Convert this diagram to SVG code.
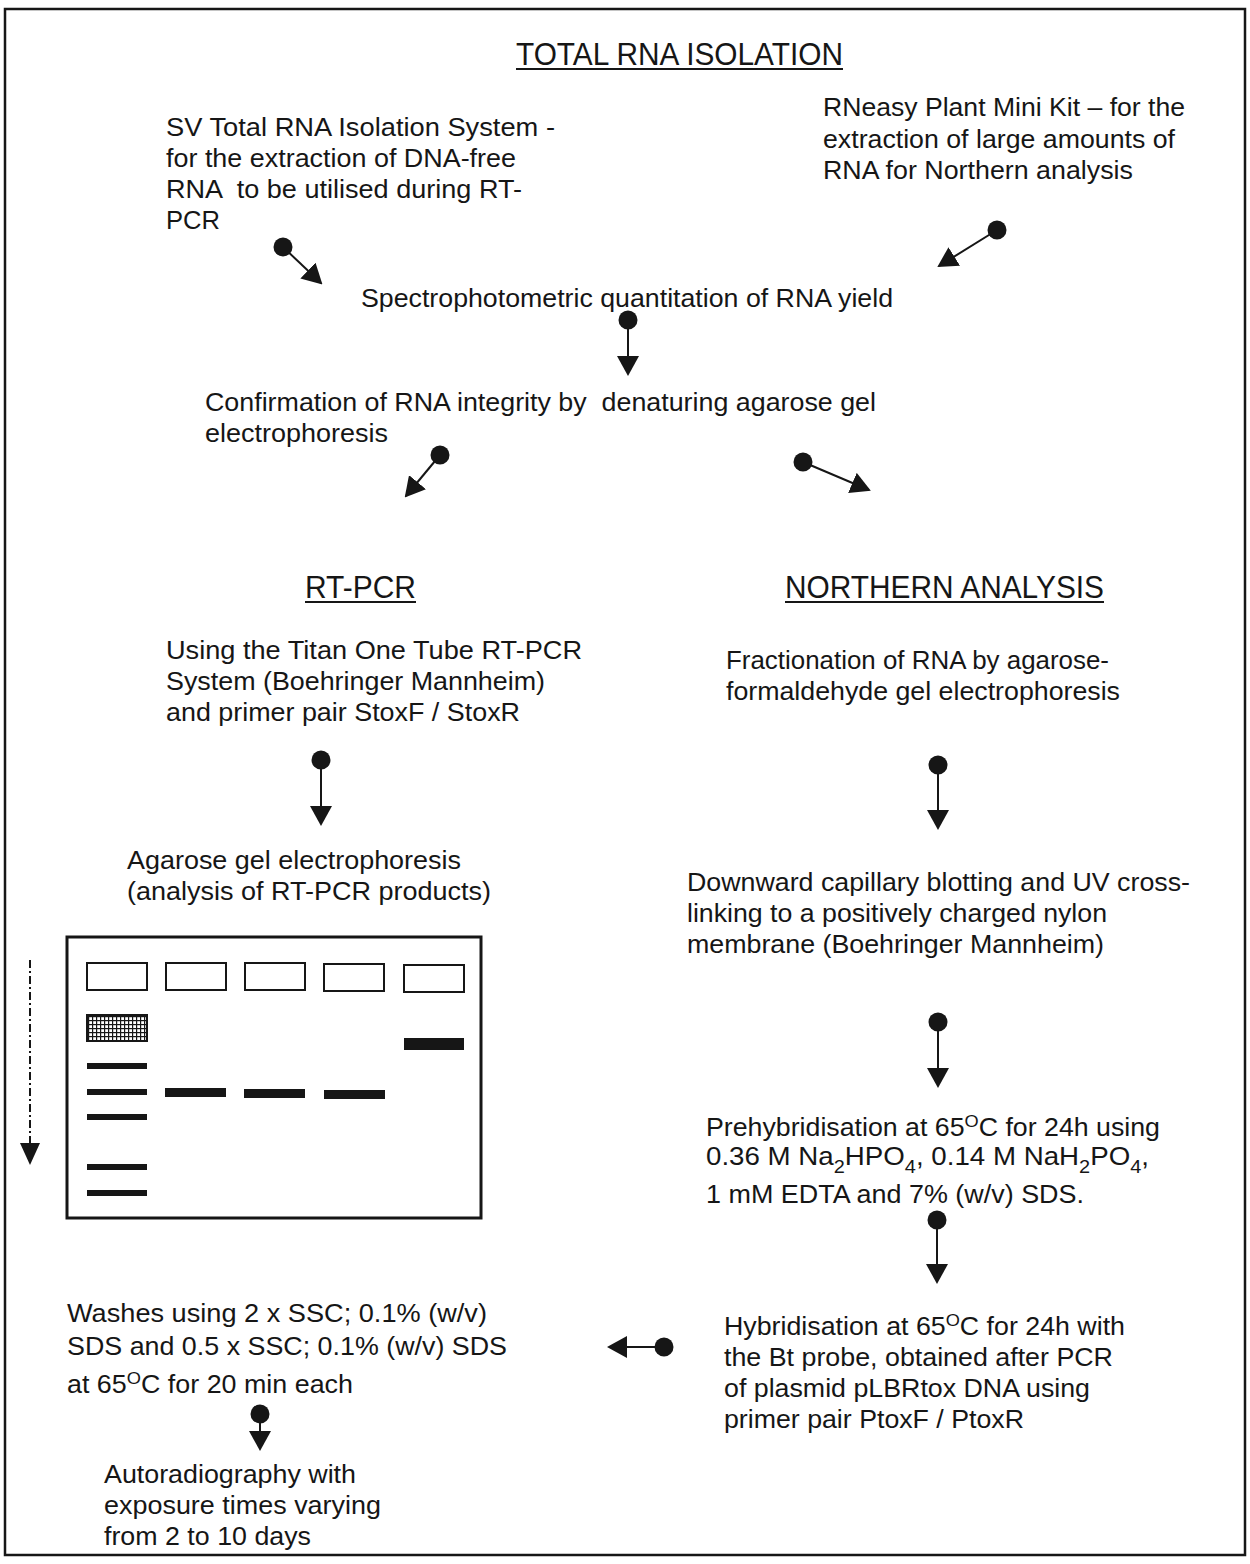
<svg xmlns="http://www.w3.org/2000/svg" width="1250" height="1564" viewBox="0 0 1250 1564">
<style>
.t{font-family:"Liberation Sans",Arial,sans-serif;font-size:25px;fill:#161616;}
.h{font-family:"Liberation Sans",Arial,sans-serif;font-size:31px;fill:#161616;}
.ul{stroke:#161616;stroke-width:2;}
.con line{stroke:#161616;stroke-width:2;marker-start:url(#dot);marker-end:url(#arr);}
.well{fill:#fff;stroke:#161616;stroke-width:2;}
.band{fill:#161616;}
</style>
<defs>
<marker id="dot" viewBox="0 0 20 20" refX="10" refY="10" markerWidth="20" markerHeight="20" markerUnits="userSpaceOnUse"><circle cx="10" cy="10" r="9.5" fill="#161616"/></marker>
<marker id="arr" viewBox="0 0 20 22" refX="18" refY="11" markerWidth="20" markerHeight="22" markerUnits="userSpaceOnUse" orient="auto"><path d="M0,0 L20,11 L0,22 Z" fill="#161616"/></marker>
<pattern id="stip" width="4" height="4" patternUnits="userSpaceOnUse"><rect width="4" height="4" fill="#fff"/><rect x="0" y="0" width="4" height="1.2" fill="#161616"/><rect x="0" y="0" width="1.2" height="4" fill="#161616"/></pattern>
</defs>
<rect width="1250" height="1564" fill="#fff"/>
<rect x="5" y="9" width="1240" height="1546" fill="none" stroke="#161616" stroke-width="2.5"/>

<g id="title">
<text class="h" x="516" y="65" textLength="327" lengthAdjust="spacingAndGlyphs">TOTAL RNA ISOLATION</text>
<line class="ul" x1="516" y1="69" x2="843" y2="69"/>
</g>
<g id="sv">
<text class="t" x="166" y="136" textLength="389" lengthAdjust="spacingAndGlyphs">SV Total RNA Isolation System -</text>
<text class="t" x="166" y="167" textLength="350" lengthAdjust="spacingAndGlyphs">for the extraction of DNA-free</text>
<text class="t" x="166" y="198" textLength="356" lengthAdjust="spacingAndGlyphs" xml:space="preserve">RNA  to be utilised during RT-</text>
<text class="t" x="166" y="229" textLength="54" lengthAdjust="spacingAndGlyphs">PCR</text>
</g>
<g id="rneasy">
<text class="t" x="823" y="116" textLength="362" lengthAdjust="spacingAndGlyphs">RNeasy Plant Mini Kit – for the</text>
<text class="t" x="823" y="148" textLength="352" lengthAdjust="spacingAndGlyphs">extraction of large amounts of</text>
<text class="t" x="823" y="179" textLength="310" lengthAdjust="spacingAndGlyphs">RNA for Northern analysis</text>
</g>
<g id="spectro">
<text class="t" x="361" y="307" textLength="532" lengthAdjust="spacingAndGlyphs">Spectrophotometric quantitation of RNA yield</text>
</g>
<g id="confirm">
<text class="t" x="205" y="411" textLength="671" lengthAdjust="spacingAndGlyphs" xml:space="preserve">Confirmation of RNA integrity by  denaturing agarose gel</text>
<text class="t" x="205" y="442" textLength="183" lengthAdjust="spacingAndGlyphs">electrophoresis</text>
</g>
<g id="rtpcr-head">
<text class="h" x="305" y="598" textLength="111" lengthAdjust="spacingAndGlyphs">RT-PCR</text>
<line class="ul" x1="305" y1="602" x2="416" y2="602"/>
</g>
<g id="northern-head">
<text class="h" x="785" y="598" textLength="319" lengthAdjust="spacingAndGlyphs">NORTHERN ANALYSIS</text>
<line class="ul" x1="785" y1="602" x2="1104" y2="602"/>
</g>
<g id="titan">
<text class="t" x="166" y="659" textLength="416" lengthAdjust="spacingAndGlyphs">Using the Titan One Tube RT-PCR</text>
<text class="t" x="166" y="690" textLength="379" lengthAdjust="spacingAndGlyphs">System (Boehringer Mannheim)</text>
<text class="t" x="166" y="721" textLength="354" lengthAdjust="spacingAndGlyphs">and primer pair StoxF / StoxR</text>
</g>
<g id="agarose">
<text class="t" x="127" y="869" textLength="334" lengthAdjust="spacingAndGlyphs">Agarose gel electrophoresis</text>
<text class="t" x="127" y="900" textLength="364" lengthAdjust="spacingAndGlyphs">(analysis of RT-PCR products)</text>
</g>
<g id="fraction">
<text class="t" x="726" y="669" textLength="383" lengthAdjust="spacingAndGlyphs">Fractionation of RNA by agarose-</text>
<text class="t" x="726" y="700" textLength="394" lengthAdjust="spacingAndGlyphs">formaldehyde gel electrophoresis</text>
</g>
<g id="blot">
<text class="t" x="687" y="891" textLength="503" lengthAdjust="spacingAndGlyphs">Downward capillary blotting and UV cross-</text>
<text class="t" x="687" y="922" textLength="420" lengthAdjust="spacingAndGlyphs">linking to a positively charged nylon</text>
<text class="t" x="687" y="953" textLength="417" lengthAdjust="spacingAndGlyphs">membrane (Boehringer Mannheim)</text>
</g>
<g id="prehyb">
<text class="t" x="706" y="1136" textLength="454" lengthAdjust="spacingAndGlyphs">Prehybridisation at 65<tspan dy="-9" font-size="17">O</tspan><tspan dy="9">C for 24h using</tspan></text>
<text class="t" x="706" y="1165" textLength="443" lengthAdjust="spacingAndGlyphs">0.36 M Na<tspan dy="8" font-size="18">2</tspan><tspan dy="-8">HPO</tspan><tspan dy="8" font-size="18">4</tspan><tspan dy="-8">, 0.14 M NaH</tspan><tspan dy="8" font-size="18">2</tspan><tspan dy="-8">PO</tspan><tspan dy="8" font-size="18">4</tspan><tspan dy="-8">,</tspan></text>
<text class="t" x="706" y="1203" textLength="378" lengthAdjust="spacingAndGlyphs">1 mM EDTA and 7% (w/v) SDS.</text>
</g>
<g id="hyb">
<text class="t" x="724" y="1335" textLength="401" lengthAdjust="spacingAndGlyphs">Hybridisation at 65<tspan dy="-9" font-size="17">O</tspan><tspan dy="9">C for 24h with</tspan></text>
<text class="t" x="724" y="1366" textLength="389" lengthAdjust="spacingAndGlyphs">the Bt probe, obtained after PCR</text>
<text class="t" x="724" y="1397" textLength="366" lengthAdjust="spacingAndGlyphs">of plasmid pLBRtox DNA using</text>
<text class="t" x="724" y="1428" textLength="300" lengthAdjust="spacingAndGlyphs">primer pair PtoxF / PtoxR</text>
</g>
<g id="washes">
<text class="t" x="67" y="1322" textLength="420" lengthAdjust="spacingAndGlyphs">Washes using 2 x SSC; 0.1% (w/v)</text>
<text class="t" x="67" y="1355" textLength="440" lengthAdjust="spacingAndGlyphs">SDS and 0.5 x SSC; 0.1% (w/v) SDS</text>
<text class="t" x="67" y="1393" textLength="286" lengthAdjust="spacingAndGlyphs">at 65<tspan dy="-9" font-size="17">O</tspan><tspan dy="9">C for 20 min each</tspan></text>
</g>
<g id="autorad">
<text class="t" x="104" y="1483" textLength="252" lengthAdjust="spacingAndGlyphs">Autoradiography with</text>
<text class="t" x="104" y="1514" textLength="277" lengthAdjust="spacingAndGlyphs">exposure times varying</text>
<text class="t" x="104" y="1545" textLength="207" lengthAdjust="spacingAndGlyphs">from 2 to 10 days</text>
</g>

<g id="gel">
<rect x="67" y="937" width="414" height="281" fill="#fff" stroke="#161616" stroke-width="3"/>
<rect class="well" x="87" y="963" width="60" height="27"/>
<rect class="well" x="166" y="963" width="60" height="27"/>
<rect class="well" x="245" y="963" width="60" height="27"/>
<rect class="well" x="324" y="964" width="60" height="27"/>
<rect class="well" x="404" y="965" width="60" height="27"/>
<rect x="87" y="1015" width="60" height="26" fill="url(#stip)" stroke="#161616" stroke-width="2"/>
<rect class="band" x="87" y="1063" width="60" height="6"/>
<rect class="band" x="87" y="1089" width="60" height="6"/>
<rect class="band" x="87" y="1114" width="60" height="6"/>
<rect class="band" x="87" y="1164" width="60" height="6"/>
<rect class="band" x="87" y="1190" width="60" height="6"/>
<rect class="band" x="165" y="1088" width="61" height="9"/>
<rect class="band" x="244" y="1089" width="61" height="9"/>
<rect class="band" x="324" y="1090" width="61" height="9"/>
<rect class="band" x="404" y="1038" width="60" height="12"/>
<line x1="30" y1="960" x2="30" y2="1145" stroke="#161616" stroke-width="2" stroke-dasharray="8,3,2,3"/>
<polygon points="20,1143 40,1143 30,1165" fill="#161616"/>
</g>

<g id="connectors" class="con">
<line x1="283" y1="247" x2="321" y2="283"/>
<line x1="997" y1="230" x2="939" y2="266"/>
<line x1="628" y1="320" x2="628" y2="374"/>
<line x1="440" y1="455" x2="406" y2="496"/>
<line x1="803" y1="462" x2="869" y2="490"/>
<line x1="321" y1="760" x2="321" y2="824"/>
<line x1="938" y1="765" x2="938" y2="828"/>
<line x1="938" y1="1022" x2="938" y2="1086"/>
<line x1="937" y1="1220" x2="937" y2="1282"/>
<line x1="664" y1="1347" x2="609" y2="1347"/>
<line x1="260" y1="1414" x2="260" y2="1449"/>
</g>
</svg>
